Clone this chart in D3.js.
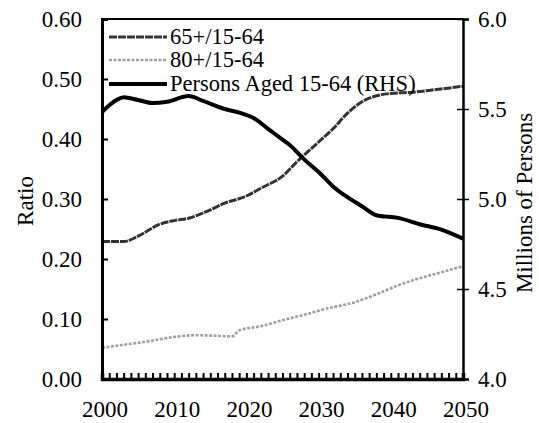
<!DOCTYPE html>
<html><head><meta charset="utf-8">
<script src="https://cdn.jsdelivr.net/npm/d3@7"></script>
<style>
body{margin:0;background:#fff;}
</style></head>
<body><svg id="c" width="539" height="423"></svg>
<script>
const years65 = [2000,2003,2005,2008,2010,2012,2015,2017,2020,2022,2025,2027,2030,2032,2034,2036,2038,2040,2043,2046,2050];
const ratio65 = [0.229,0.229,0.238,0.258,0.264,0.268,0.282,0.293,0.305,0.318,0.338,0.362,0.395,0.417,0.443,0.462,0.472,0.476,0.478,0.482,0.488];
const years80 = [2000,2003,2006,2010,2013,2016,2018,2019,2022,2025,2028,2031,2035,2038,2041,2044,2047,2050];
const ratio80 = [0.052,0.057,0.062,0.070,0.073,0.072,0.071,0.081,0.088,0.098,0.107,0.117,0.128,0.141,0.156,0.168,0.178,0.188];
const yearsPop = [2000,2002,2003,2005,2007,2009,2012,2014,2017,2019,2021,2023,2025,2026,2028,2030,2032,2034,2036,2038,2041,2044,2047,2050];
const pop1564 = [5.483,5.55,5.565,5.55,5.533,5.54,5.572,5.545,5.5,5.48,5.45,5.39,5.33,5.30,5.22,5.15,5.07,5.01,4.96,4.91,4.895,4.86,4.83,4.78];
const leftTicks = [0,0.1,0.2,0.3,0.4,0.5,0.6];
const rightTicks = [4.0,4.5,5.0,5.5,6.0];
const xLabels = [2000,2010,2020,2030,2040,2050];
const legendLabels = ["65+/15-64","80+/15-64","Persons Aged 15-64 (RHS)"];
const leftTitle = "Ratio", rightTitle = "Millions of Persons";

const FONT = "'Liberation Serif', 'Times New Roman', serif";
const svg = d3.select("#c");
const L=102,R=463,T=19,B=379;
const x = d3.scaleLinear().domain([2000,2050]).range([L,R]);
const yL = d3.scaleLinear().domain([0,0.6]).range([B,T]);
const yR = d3.scaleLinear().domain([4,6]).range([B,T]);
const fs = 23;

const curve = d3.curveMonotoneX;
const line65 = d3.line().x((d,i)=>x(years65[i])).y(d=>yL(d)).curve(curve);
const line80 = d3.line().x((d,i)=>x(years80[i])).y(d=>yL(d)).curve(curve);
const linePop = d3.line().x((d,i)=>x(yearsPop[i])).y(d=>yR(d)).curve(curve);

const st65 = {stroke:"#333", w:3, dash:"8,1"};
const st80 = {stroke:"#a0a0a0", w:2.6, dash:"3,1.5"};
const stPop = {stroke:"#000", w:4, dash:null};

function drawPath(p, s){
  const el = svg.append("path").attr("d",p).attr("fill","none").attr("stroke",s.stroke).attr("stroke-width",s.w).attr("stroke-linejoin","round");
  if(s.dash) el.attr("stroke-dasharray",s.dash);
}
drawPath(line80(ratio80), st80);
drawPath(line65(ratio65), st65);
drawPath(linePop(pop1564), stPop);

svg.append("line").attr("x1",L).attr("x2",R).attr("y1",T).attr("y2",T).attr("stroke","#000").attr("stroke-width",2);

const gL = svg.append("g").attr("transform",`translate(${L},0)`);
gL.call(d3.axisLeft(yL).tickValues(leftTicks).tickSize(-6).tickPadding(20).tickFormat(d3.format(".2f")));
gL.select(".domain").attr("stroke-width",3);
gL.selectAll(".tick line").attr("stroke-width",2);

const gR = svg.append("g").attr("transform",`translate(${R},0)`);
gR.call(d3.axisRight(yR).tickValues(rightTicks).tickSize(6).tickPadding(9).tickFormat(d3.format(".1f")));
gR.selectAll(".tick line").attr("x1",-6).attr("stroke-width",1.5);
gR.select(".domain").attr("stroke-width",2.5);

const gB = svg.append("g").attr("transform",`translate(0,${B})`);
gB.call(d3.axisBottom(x).tickValues(d3.range(2000,2051)).tickSize(-6).tickFormat(""));
gB.select(".domain").attr("stroke-width",3.5);
gB.selectAll(".tick line").attr("stroke-width",2);
gB.selectAll(".lbl").data(xLabels).join("text").attr("class","lbl")
  .attr("x",d=>x(d)+3).attr("y",38).attr("text-anchor","middle").text(d=>d);

svg.append("text").attr("transform",`translate(33,201) rotate(-90)`).attr("text-anchor","middle").text(leftTitle);
svg.append("text").attr("transform",`translate(532,203) rotate(-90)`).attr("text-anchor","middle").text(rightTitle);

const styles = [st65, st80, stPop];
const ly = [37, 60, 84];
legendLabels.forEach((lab,i)=>{
  const s = styles[i];
  const l = svg.append("line").attr("x1",109).attr("x2",167).attr("y1",ly[i]).attr("y2",ly[i]).attr("stroke",s.stroke).attr("stroke-width",s.w);
  if(s.dash) l.attr("stroke-dasharray",s.dash);
  svg.append("text").attr("class","leg").attr("x",170).attr("y",ly[i]+7).text(lab);
});

svg.selectAll("text").attr("font-family",null).style("font-family",FONT).style("font-size",fs+"px").style("fill","#000");
svg.selectAll("text.leg").style("font-size","22.5px");
</script></body></html>
